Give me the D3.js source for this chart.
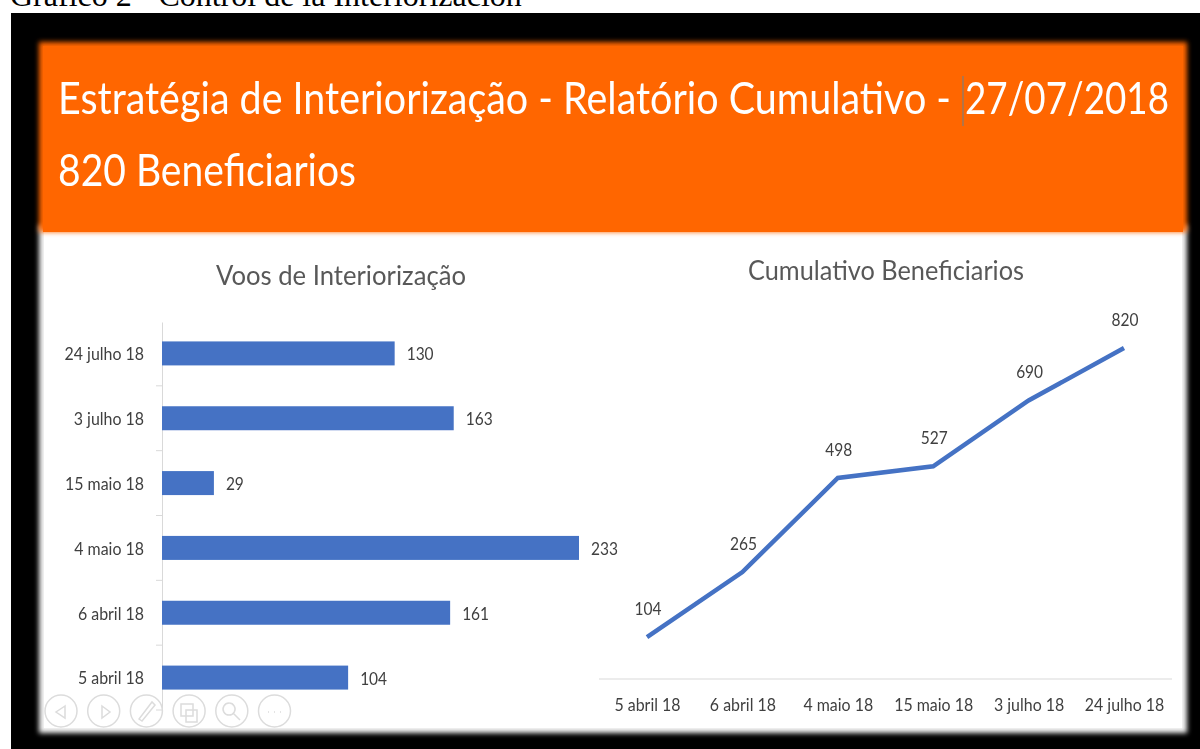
<!DOCTYPE html>
<html>
<head>
<meta charset="utf-8">
<script src="https://cdn.jsdelivr.net/npm/d3@7"></script>
<style>
  html, body { margin: 0; padding: 0; background: #fff; overflow: hidden; }
  svg { display: block; }
</style>
</head>
<body>
<div id="chart"></div>
<script>
const captionText = "Gráfico 2 - Control de la Interiorización";
const headerLine1 = "Estratégia de Interiorização - Relatório Cumulativo -";
const headerDate = "27/07/2018";
const headerLine2 = "820 Beneficiarios";
const barTitle = "Voos de Interiorização";
const lineTitle = "Cumulativo Beneficiarios";

const flightDates = ["5 abril 18", "6 abril 18", "4 maio 18", "15 maio 18", "3 julho 18", "24 julho 18"];
const flightCounts = [104, 161, 233, 29, 163, 130];
const cumulative = [104, 265, 498, 527, 690, 820];

const width = 1200, height = 749;
const font = "Lato, 'Open Sans', sans-serif";

const svg = d3.select("#chart").append("svg")
    .attr("width", width)
    .attr("height", height)
    .style("font-family", font);

const defs = svg.append("defs");
defs.append("filter").attr("id", "soft")
    .append("feGaussianBlur").attr("stdDeviation", 0.7);
defs.append("filter").attr("id", "edge")
    .attr("x", "-5%").attr("y", "-5%").attr("width", "110%").attr("height", "110%")
    .append("feGaussianBlur").attr("stdDeviation", 2.5);

// Lato is wider than the slide's font, so squeeze the labels a bit
const condense = (sel, factor) => sel.each(function () {
    d3.select(this)
        .attr("textLength", this.getComputedTextLength() * factor)
        .attr("lengthAdjust", "spacingAndGlyphs");
});

// caption of the document, cut by the top of the page
svg.append("text")
    .attr("x", 10)
    .attr("y", 6)
    .style("font-family", "'Liberation Serif', serif")
    .style("font-size", "32px")
    .attr("fill", "#000")
    .text(captionText);

// black frame and slide
svg.append("rect").attr("x", 11).attr("y", 13).attr("width", width - 11).attr("height", height - 13).attr("fill", "#000");

const slide = svg.append("g");
slide.append("rect").attr("x", 39).attr("y", 225).attr("width", 1148).attr("height", 508)
    .attr("fill", "#f4f4f4").attr("filter", "url(#edge)");
slide.append("rect").attr("x", 44).attr("y", 228).attr("width", 1138).attr("height", 500)
    .attr("fill", "#fff");
slide.append("rect").attr("x", 39).attr("y", 42).attr("width", 1148).attr("height", 190)
    .attr("fill", "#ff6600").attr("filter", "url(#edge)");
slide.append("rect").attr("x", 43).attr("y", 46).attr("width", 1140).attr("height", 186)
    .attr("fill", "#ff6600");

const page = svg.append("g").attr("filter", "url(#soft)");

const header = page.append("g").attr("fill", "#fff").style("font-size", "44px");
header.append("text").attr("x", 58).attr("y", 114)
    .attr("textLength", 893).attr("lengthAdjust", "spacingAndGlyphs")
    .text(headerLine1);
header.append("text").attr("x", 965).attr("y", 114)
    .attr("textLength", 204).attr("lengthAdjust", "spacingAndGlyphs")
    .text(headerDate);
header.append("text").attr("x", 58).attr("y", 186)
    .attr("textLength", 298).attr("lengthAdjust", "spacingAndGlyphs")
    .text(headerLine2);
page.append("line").attr("x1", 963).attr("x2", 963).attr("y1", 76).attr("y2", 126)
    .attr("stroke", "#9a7a60").attr("stroke-width", 1.5);

// bars
const xBar = d3.scaleLinear().domain([0, 233]).range([162, 579]);
const yBar = d3.scaleBand().domain(flightDates).range([710, 321]).paddingInner(0.63).paddingOuter(0.315);

page.append("text").attr("x", 341).attr("y", 285)
    .attr("text-anchor", "middle")
    .attr("fill", "#595959")
    .style("font-size", "27px")
    .attr("textLength", 250).attr("lengthAdjust", "spacingAndGlyphs")
    .text(barTitle);

const axisLeft = page.append("g")
    .attr("transform", "translate(162,1)")
    .call(d3.axisLeft(yBar).tickSize(0).tickPadding(18));
axisLeft.select(".domain").attr("stroke", "#d9d9d9");
axisLeft.selectAll("text")
    .attr("fill", "#404040")
    .style("font-family", font)
    .style("font-size", "18px")
    .call(condense, 0.885);

// tick marks between the categories
page.append("g").selectAll("line")
    .data(flightDates)
    .join("line")
    .attr("x1", 156).attr("x2", 162)
    .attr("y1", d => yBar(d) + yBar.bandwidth() / 2 + yBar.step() / 2)
    .attr("y2", d => yBar(d) + yBar.bandwidth() / 2 + yBar.step() / 2)
    .attr("stroke", "#d9d9d9");

page.append("g").selectAll("rect")
    .data(flightDates)
    .join("rect")
    .attr("x", xBar(0))
    .attr("y", d => yBar(d))
    .attr("width", (d, i) => xBar(flightCounts[i]) - xBar(0))
    .attr("height", yBar.bandwidth())
    .attr("fill", "#4472c4");

page.append("g").selectAll("text")
    .data(flightDates)
    .join("text")
    .attr("x", (d, i) => xBar(flightCounts[i]) + 12)
    .attr("y", d => yBar(d) + yBar.bandwidth() / 2 + 7)
    .attr("fill", "#404040")
    .style("font-size", "18px")
    .text((d, i) => flightCounts[i])
    .call(condense, 0.86);

// line
const xLine = d3.scalePoint().domain(flightDates).range([647, 1124]);
const yLine = d3.scaleLinear().domain([0, 820]).range([679, 348]);

page.append("text").attr("x", 886).attr("y", 280)
    .attr("text-anchor", "middle")
    .attr("fill", "#595959")
    .style("font-size", "27px")
    .attr("textLength", 276).attr("lengthAdjust", "spacingAndGlyphs")
    .text(lineTitle);

const axisBottom = page.append("g")
    .attr("transform", `translate(0,${yLine(0)})`)
    .call(d3.axisBottom(xLine).tickSize(0).tickPadding(19));
axisBottom.select(".domain").attr("d", "M599,0H1172").attr("stroke", "#d9d9d9");
axisBottom.selectAll("text")
    .attr("fill", "#404040")
    .style("font-family", font)
    .style("font-size", "18px")
    .call(condense, 0.885);

const line = d3.line()
    .x(d => xLine(d))
    .y((d, i) => yLine(cumulative[i]));

page.append("path")
    .attr("d", line(flightDates))
    .attr("fill", "none")
    .attr("stroke", "#4472c4")
    .attr("stroke-width", 4.5);

page.append("g").selectAll("text")
    .data(flightDates)
    .join("text")
    .attr("x", d => xLine(d) + 1)
    .attr("y", (d, i) => yLine(cumulative[i]) - 22)
    .attr("text-anchor", "middle")
    .attr("fill", "#404040")
    .style("font-size", "18px")
    .text((d, i) => cumulative[i])
    .call(condense, 0.86);

// slide show controls
const controls = ["M65,706L56,712L65,718Z", "M102,706L110,712L102,718Z",
    "M139,719L142,721L155,705L152,702Z", "M181,704H193V716H181ZM186,710H197V722H186Z",
    "M229,703a6,6 0 1,0 .1,0M233,713L240,720", "M268,712h1M274,712h1M280,712h1"];
const controlG = page.append("g").attr("fill", "none").attr("stroke", "#dcdcdc").attr("stroke-width", 1.5);
controlG.selectAll("circle")
    .data(controls)
    .join("circle")
    .attr("cx", (d, i) => 61 + i * 42.7)
    .attr("cy", 711)
    .attr("r", 16);
controlG.selectAll("path")
    .data(controls)
    .join("path")
    .attr("d", d => d);
</script>
</body>
</html>
